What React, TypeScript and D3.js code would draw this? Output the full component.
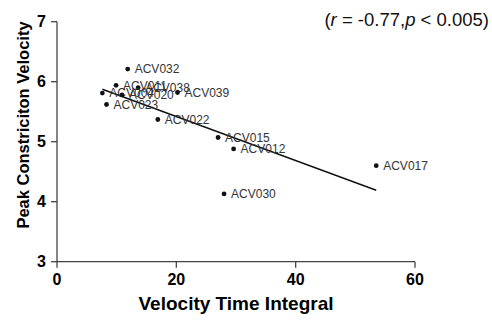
import React from "react";
import * as d3 from "d3";

const labels = ["ACV032", "ACV011", "ACV038", "ACV039", "ACV004", "ACV020", "ACV023", "ACV022", "ACV015", "ACV012", "ACV017", "ACV030"];
const vti = [11.85, 9.9, 13.6, 20.2, 7.6, 10.9, 8.3, 16.9, 27.0, 29.6, 53.5, 28.0];
const pcv = [6.21, 5.94, 5.9, 5.82, 5.81, 5.78, 5.62, 5.37, 5.07, 4.88, 4.6, 4.13];
const xTicks = [0, 20, 40, 60];
const yTicks = [3, 4, 5, 6, 7];

const W = 492, H = 322;
const M = { left: 57, right: 77, top: 21.7, bottom: 60.3 };

export default function App() {
  const x = d3.scaleLinear().domain([0, 60]).range([M.left, W - M.right]);
  const y = d3.scaleLinear().domain([3, 7]).range([H - M.bottom, M.top]);

  const mx = d3.mean(vti)!;
  const my = d3.mean(pcv)!;
  let sxy = 0, sxx = 0;
  vti.forEach((v, i) => { sxy += (v - mx) * (pcv[i] - my); sxx += (v - mx) ** 2; });
  const slope = sxy / sxx;
  const icpt = my - slope * mx;
  const x0 = d3.min(vti)!, x1 = d3.max(vti)!;
  const line = d3.line<number>().x(d => x(d)).y(d => y(icpt + slope * d));

  const font = "Liberation Sans, Arial, sans-serif";
  const axisColor = "#444";

  return (
    <svg width={W} height={H} style={{ position: "absolute", left: 0, top: 0, background: "#fff" }} fontFamily={font}>
      {/* axes */}
      <line x1={x(0)} x2={x(0)} y1={y(3)} y2={y(7)} stroke={axisColor} strokeWidth={1.3} />
      <line x1={x(0)} x2={x(60)} y1={y(3)} y2={y(3)} stroke={axisColor} strokeWidth={1.3} />
      {yTicks.map(t => (
        <g key={"y" + t}>
          <line x1={x(0) - 6} x2={x(0)} y1={y(t)} y2={y(t)} stroke={axisColor} strokeWidth={1.3} />
          <text x={x(0) - 11} y={y(t)} dy="0.36em" textAnchor="end" fontSize={16} fontWeight="bold">{t}</text>
        </g>
      ))}
      {xTicks.map(t => (
        <g key={"x" + t}>
          <line x1={x(t)} x2={x(t)} y1={y(3)} y2={y(3) + 6} stroke={axisColor} strokeWidth={1.3} />
          <text x={x(t)} y={285} textAnchor="middle" fontSize={16} fontWeight="bold">{t}</text>
        </g>
      ))}
      <text x={(x(0) + x(60)) / 2} y={310} textAnchor="middle" fontSize={19} fontWeight="bold">Velocity Time Integral</text>
      <text transform={`translate(29,125) rotate(-90)`} textAnchor="middle" fontSize={16.5} fontWeight="bold">Peak Constriciton Velocity</text>
      {/* regression */}
      <path d={line([x0, x1])!} fill="none" stroke="#111" strokeWidth={1.4} />
      {/* points */}
      {vti.map((v, i) => (
        <g key={labels[i]}>
          <circle cx={x(v)} cy={y(pcv[i])} r={2.4} fill="#111" />
          <text x={x(v) + 7} y={y(pcv[i])} dy="0.36em" fontSize={12} fill="#333">{labels[i]}</text>
        </g>
      ))}
      <text x={489} y={26} textAnchor="end" fontSize={18.5} fill="#111">
        (<tspan fontStyle="italic">r</tspan> = -0.77,<tspan fontStyle="italic">p</tspan> &lt; 0.005)
      </text>
    </svg>
  );
}
